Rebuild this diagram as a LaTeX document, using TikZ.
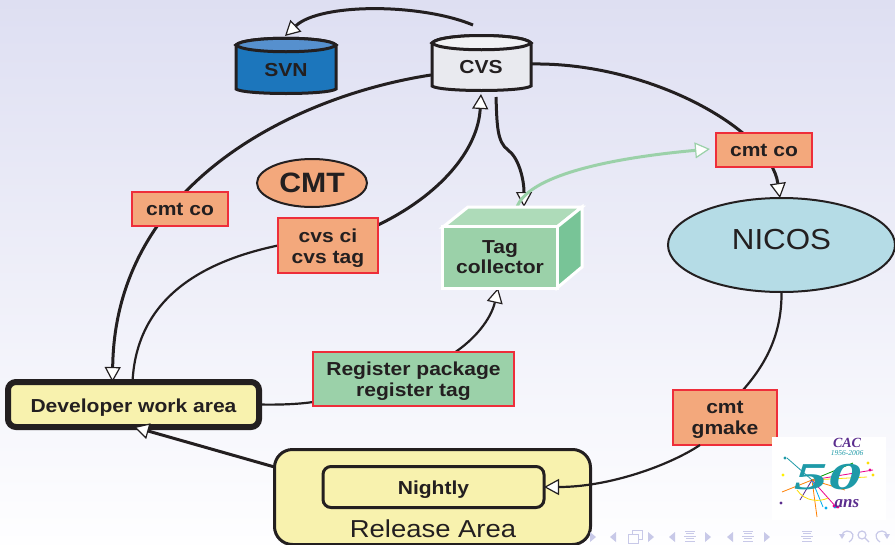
\documentclass[tikz,border=0pt]{standalone}
\usepackage{graphicx}
\usepackage{array}
\usepackage{fontspec}
\setmainfont{Liberation Sans}
\newfontfamily\logofont{Liberation Serif}
\newfontfamily\widefont[FakeStretch=1.12]{Liberation Sans}
\newfontfamily\midfont[FakeStretch=1.08]{Liberation Sans}
\usetikzlibrary{arrows.meta,shapes.geometric,calc}
\definecolor{ink}{HTML}{231F20}
\definecolor{salmon}{HTML}{F3A87C}
\definecolor{redline}{HTML}{EE2E3A}
\definecolor{tagfront}{HTML}{9BD1A9}
\definecolor{tagtop}{HTML}{AEDBB9}
\definecolor{tagside}{HTML}{78C497}
\definecolor{paleyellow}{HTML}{F8F2AE}
\definecolor{nicosblue}{HTML}{B5DCE6}
\definecolor{navcol}{HTML}{C8C9E8}
\definecolor{logoteal}{HTML}{1E9AA8}
\definecolor{logopurple}{HTML}{5B2D8E}
\definecolor{svnbody}{HTML}{1C76BC}
\definecolor{svntop}{HTML}{5690CE}
\definecolor{cvsbody}{HTML}{E9EAEF}
\definecolor{cvstop}{HTML}{F1F2F4}
\pgfdeclarelayer{backdrop}
\pgfdeclarelayer{conn}
\pgfsetlayers{backdrop,conn,main}
\tikzset{
  x=1pt,y=-1pt,
  every node/.style={text=ink,inner sep=0pt,outer sep=0pt,align=center},
  boldtext/.style={font=\fontsize{18.8}{21}\selectfont\widefont\bfseries},
  redbox/.style={draw=redline,line width=1.5pt,fill=salmon,boldtext},
  tipblack/.style={-{Triangle[length=15pt,width=16pt,fill=white,line width=1.2pt]}},
  conn/.style={draw=ink,line width=3pt},
  connthin/.style={draw=ink,line width=2.2pt},
  cyltext/.style={minimum width=100pt,minimum height=56pt,boldtext},
  cylline/.style={draw=ink,line width=3pt},
  navshape/.style={fill=navcol,draw=none},
  navline/.style={draw=navcol,line width=1pt},
}
% one line of text whose baseline lies #1 below the centre of its node
\newcommand{\oneline}[2]{\raisebox{-#1}[0pt][0pt]{#2}}
% two lines of text whose last baseline lies #1 below the centre of its node
\newcommand{\twolines}[3]{\raisebox{-#1}[0pt][0pt]{\begin{tabular}[b]{@{}c@{}}#2\\#3\end{tabular}}}
\newcommand{\cylshape}[7]{% left right top mid bottom bodyfill topfill
  \path[cylline,fill=#6] (#1,#4) -- (#1,#5-5) .. controls (#1+8,#5+1) and (#2-8,#5+1) .. (#2,#5-5) -- (#2,#4)
     .. controls (#2-8,#3-2) and (#1+8,#3-2) .. (#1,#4) -- cycle;
  \path[cylline,fill=#7] (#1,#4) .. controls (#1+8,#3-2) and (#2-8,#3-2) .. (#2,#4)
     .. controls (#2-8,#4+9) and (#1+8,#4+9) .. (#1,#4) -- cycle;
}
\newcommand{\navR}[1]{\path[navshape] (#1-3,532) -- (#1+3,537) -- (#1-3,542) -- cycle;}
\newcommand{\navL}[1]{\path[navshape] (#1+3,532) -- (#1-3,537) -- (#1+3,542) -- cycle;}
\newcommand{\navM}[1]{\foreach \yy/\ww in {531/5,533.5/4,536/6,538.5/4,541/5}{\draw[navline] (#1-\ww,\yy) -- (#1+\ww,\yy);}}
\begin{document}
\begin{tikzpicture}
\useasboundingbox (0,0) rectangle (895,544);
\begin{pgfonlayer}{backdrop}
  \shade[top color={rgb,255:red,222;green,223;blue,242},bottom color={rgb,255:red,254;green,254;blue,255}] (0,0) rectangle (895,544);
\end{pgfonlayer}

% cylinders
\cylshape{236}{336}{38}{45}{94}{svnbody}{svntop}
\cylshape{432}{531}{35}{43}{91}{cvsbody}{cvstop}
\node[cyltext] (svn) at (286,70) {\oneline{6.5pt}{SVN}};
\node[cyltext] (cvs) at (481,66) {\oneline{7pt}{CVS}};

% tag collector
\path[draw=white,line width=3pt,line join=miter,fill=tagtop] (443,227) -- (468,207) -- (582,207) -- (557,227) -- cycle;
\path[draw=white,line width=3pt,line join=miter,fill=tagside] (557,227) -- (582,207) -- (582,267) -- (557,288) -- cycle;
\node[draw=white,line width=3pt,fill=tagfront,minimum width=115pt,minimum height=62pt,font=\fontsize{18.8}{20}\selectfont\widefont\bfseries] (tag) at (500,257.5) {\twolines{16pt}{Tag}{collector}};
\coordinate (tagtopmid) at (524,207);

% boxes
\node[draw=ink,line width=2pt,fill=salmon,ellipse,minimum width=110pt,minimum height=48pt,font=\fontsize{28}{30}\selectfont\midfont\bfseries] (cmt) at (312,183) {CMT};
\node[draw=ink,line width=2pt,fill=nicosblue,ellipse,minimum width=227pt,minimum height=94pt,font=\fontsize{29}{30}\selectfont\midfont] (nicos) at (781.5,245) {\oneline{4pt}{NICOS}};
\node[redbox,minimum width=96pt,minimum height=34pt] (cmtco1) at (180,209) {\oneline{6pt}{cmt co}};
\node[redbox,minimum width=96pt,minimum height=34pt] (cmtco2) at (764,150) {\oneline{6pt}{cmt co}};
\node[redbox,minimum width=100pt,minimum height=55pt] (cvsci) at (328,245.5) {\twolines{17.5pt}{cvs ci}{cvs tag}};
\node[redbox,fill=tagfront,minimum width=201pt,minimum height=54pt] (register) at (413.5,379) {\twolines{17pt}{Register package}{register tag}};
\node[redbox,minimum width=104pt,minimum height=55pt] (gmake) at (725,417.5) {\twolines{16.5pt}{cmt}{gmake}};
\node[draw=ink,line width=6pt,fill=paleyellow,rounded corners=8pt,minimum width=251pt,minimum height=45pt,boldtext] (dev) at (133.5,404.5) {\oneline{7.5pt}{Developer work area}};
\node[draw=ink,line width=3pt,fill=paleyellow,rounded corners=18pt,minimum width=316pt,minimum height=95pt] (release) at (432.5,497) {};
\node[font=\fontsize{24.5}{26}\selectfont\widefont] (releaselabel) at (433,529) {Release Area};
\node[draw=ink,line width=3pt,fill=paleyellow,rounded corners=8pt,minimum width=221pt,minimum height=41pt,boldtext] (nightly) at (433.5,487) {\oneline{7pt}{Nightly}};

% connectors
\coordinate (svntip) at (285,36);
\coordinate (cvstopfree) at (473,25);
\begin{pgfonlayer}{conn}
\draw[conn,tipblack] (cvstopfree) .. controls (420,3) and (320,3) .. (svntip);
\draw[conn,tipblack] (cvs.west |- 0,75) .. controls (300,95) and (115,180) .. ([xshift=-21pt]dev.north);
\draw[connthin] ([xshift=-1pt]dev.north) .. controls (136,310) and (185,265) .. (cvsci.west);
\draw[conn,tipblack] (cvsci.east |- 0,225) .. controls (440,195) and (478,150) .. (cvs.south);
\draw[conn,tipblack] ([xshift=15pt,yshift=-3pt]cvs.south) .. controls (497,125) and (497,142) .. (508,150)
   .. controls (519,158) and (524,180) .. (tagtopmid);
\draw[draw=tagfront,line width=3pt,-{Triangle[length=15pt,width=16pt,fill=white,line width=1.2pt]}] (517,207) .. controls (527,180) and (590,160) .. ([xshift=-6pt]cmtco2.west |- 0,149);
\draw[conn,tipblack] (cvs.east |- 0,64) .. controls (650,62) and (770,130) .. ([xshift=-1.5pt]nicos.north);
\draw[connthin] (nicos.south) .. controls (782,335) and (765,365) .. ([xshift=18pt]gmake.north);
\draw[connthin] (dev.east) .. controls (280,405) and (300,404) .. (register.west |- 0,402);
\draw[connthin,tipblack] ([xshift=42pt]register.north) .. controls (480,335) and (492,315) .. (498,288);
\end{pgfonlayer}
\draw[conn,tipblack] ([yshift=30pt]release.west) -- ([xshift=0.5pt]dev.south);
\draw[connthin,tipblack] ([xshift=-25pt]gmake.south) .. controls (670,465) and (610,487) .. (nightly.east);

% logo
\path[fill=white] (772,437) rectangle (886,520);
\foreach \ex/\ey/\cc in {787/458/logoteal,782/492/orange,817/517/orange,837/508/magenta,823/507/cyan,853/463/green!60!black,873/470/magenta,867/477/yellow!80!orange,800/500/logopurple,845/490/orange}{
  \draw[\cc,line width=0.8pt] (812,480) -- (\ex,\ey);
}
\draw[yellow!80!orange,line width=0.8pt] (797,490) .. controls (805,502) and (820,502) .. (828,498);
\foreach \dx/\dy/\cc in {785/458/logoteal,783/475/yellow,781/503/logopurple,826/508/cyan,835/507/cyan,834/506/magenta,838/507/magenta,870/470/magenta,873/475/yellow!80!orange,868/463/yellow!80!orange}{
  \fill[\cc] (\dx,\dy) circle (1.6pt);
}
\node[text=logopurple,font=\logofont\itshape\bfseries\fontsize{14}{14}\selectfont] (logocac) at (847,443) {CAC};
\node[text=logoteal,font=\logofont\itshape\fontsize{7.5}{8}\selectfont] (logoyears) at (847,453) {1956-2006};
\node[text=logoteal,font=\logofont\itshape\bfseries\fontsize{38}{38}\selectfont] (logofifty) at (828,477) {\scalebox{1.75}[1]{50}};
\node[text=logopurple,font=\logofont\itshape\bfseries\fontsize{17}{17}\selectfont] (logoans) at (847,504) {ans};

% navigation symbols
\navR{593}\navL{613}\navR{651}\navL{672}\navM{690}\navR{708}\navL{730}\navM{748}\navR{767}\navM{807}
\draw[navline] (628,534) rectangle (638,543);
\draw[navline] (632,534) -- (632,530) -- (642,530) -- (642,539) -- (638,539);
\draw[navline,line width=1.2pt] (849,542) .. controls (856,537) and (853,531) .. (847,531) .. controls (844,531) and (842,533) .. (842,536);
\path[navshape] (839,534) -- (845,534) -- (842,539) -- cycle;
\draw[navline,line width=1.2pt] (862,535) circle (4pt) (865,538) -- (869,542);
\draw[navline,line width=1.2pt] (880,542) .. controls (873,537) and (876,531) .. (882,531) .. controls (885,531) and (887,533) .. (887,536);
\path[navshape] (884,534) -- (890,534) -- (887,539) -- cycle;
\end{tikzpicture}
\end{document}
